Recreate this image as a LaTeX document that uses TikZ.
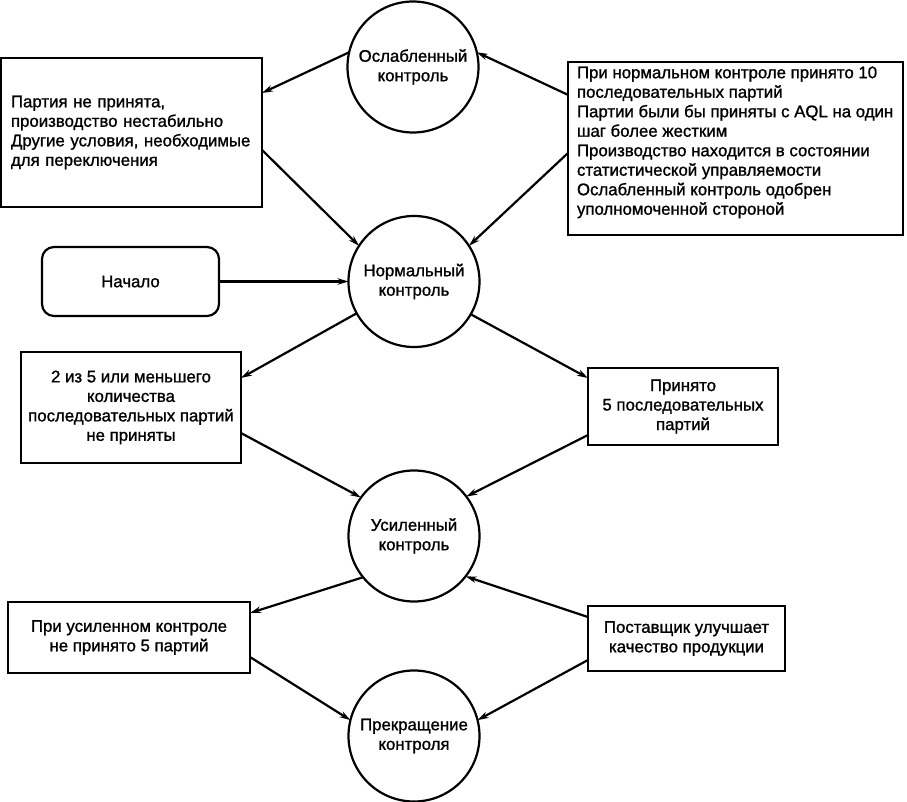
\documentclass[tikz,border=0pt]{standalone}
\usepackage{fontspec}
\setmainfont[FakeBold=1.2]{Liberation Sans}
\usetikzlibrary{arrows.meta,calc}
\begin{document}
\begin{tikzpicture}[x=1pt,y=-1pt,
  every node/.style={font=\fontsize{16.8}{19.5}\selectfont, inner sep=0pt, outer sep=0pt},
  state/.style={draw, circle, line width=2.2pt, minimum size=131pt, align=center},
  box/.style={draw, rectangle, line width=2.2pt, align=center},
  conn/.style={line width=2.2pt, -{Stealth[length=11pt,width=6.5pt]}},
  ]
\useasboundingbox (0,0) rectangle (907,802);
\fill[white] (0,0) rectangle (907,802);

% states
\node[state] (osl) at (413,67) {Ослабленный\\контроль};
\node[state] (norm) at (414,281.5) {Нормальный\\контроль};
\node[state] (usil) at (414,536) {Усиленный\\контроль};
\node[state] (prek) at (414,736) {Прекращение\\контроля};

% boxes
\node[box, align=left, text width=241pt, inner xsep=10pt, minimum height=149pt] (bl) at (131.5,132.5)
  {Партия не принята,\\производство нестабильно\\Другие условия, необходимые\\для переключения};
\node[box, minimum width=335pt, minimum height=173pt] (br) at (735.5,148.5) {};
\node[align=left, anchor=north west] (brt) at (577,66.5)
  {При нормальном контроле принято 10\\последовательных партий\\Партии были бы приняты с AQL на один\\шаг более жестким\\Производство находится в состоянии\\статистической управляемости\\Ослабленный контроль одобрен\\уполномоченной стороной};
\node[box, rounded corners=12pt, minimum width=177pt, minimum height=69pt] (start) at (130.5,281.5) {Начало};
\node[box, minimum width=220pt, minimum height=111pt] (b2) at (131,407.5)
  {2 из 5 или меньшего\\количества\\последовательных партий\\не приняты};
\node[box, minimum width=190pt, minimum height=77pt] (acc) at (683,406.5)
  {Принято\\5 последовательных\\партий};
\node[box, minimum width=242pt, minimum height=71pt] (bu) at (129,637.5)
  {При усиленном контроле\\не принято 5 партий};
\node[box, minimum width=197pt, minimum height=65pt] (bp) at (686.5,638.5)
  {Поставщик улучшает\\качество продукции};

% connectors
\draw[conn] (osl.167) -- ($(bl.north east)!0.235!(bl.south east)$);
\draw[conn] ($(bl.north east)!0.617!(bl.south east)$) -- (norm.147);
\draw[conn] ($(br.north west)!0.19!(br.south west)$) -- (osl.13);
\draw[conn] ($(br.north west)!0.526!(br.south west)$) -- (norm.33);
\draw[conn] (start.east) -- (norm.180);
\draw[conn] (norm.209) -- ($(b2.north east)!0.234!(b2.south east)$);
\draw[conn] (norm.330) -- ($(acc.north west)!0.13!(acc.south west)$);
\draw[conn] ($(b2.north east)!0.73!(b2.south east)$) -- (usil.144);
\draw[conn] ($(acc.north west)!0.87!(acc.south west)$) -- (usil.37);
\draw[conn] (usil.219) -- ($(bu.north east)!0.155!(bu.south east)$);
\draw[conn] ($(bp.north west)!0.17!(bp.south west)$) -- (usil.322);
\draw[conn] ($(bu.north east)!0.775!(bu.south east)$) -- (prek.166);
\draw[conn] ($(bp.north west)!0.83!(bp.south west)$) -- (prek.14);
\end{tikzpicture}
\end{document}
